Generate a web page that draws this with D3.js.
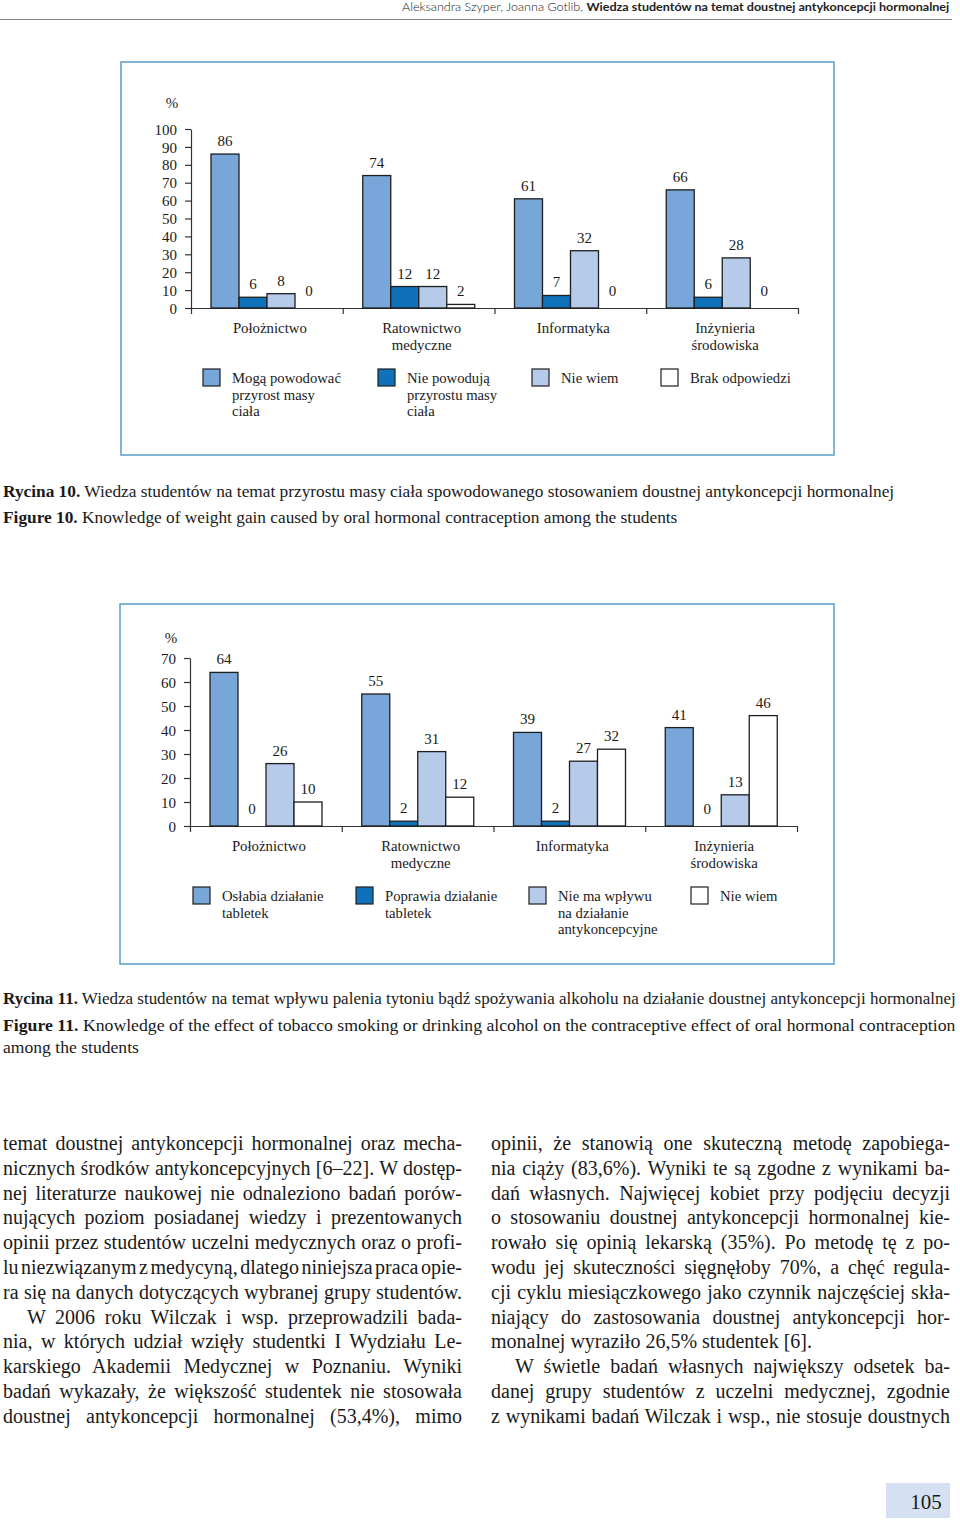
<!DOCTYPE html>
<html lang="pl">
<head>
<meta charset="UTF-8">
<title>Rycina 10 i 11</title>
<script src="https://d3js.org/d3.v7.min.js"></script>
<style>
    body { margin: 0; background: #fff; }
    svg { display: block; }
    .serif { font-family: "Liberation Serif", "Times New Roman", serif; fill: #1a1a1a; }
    .axis text { font-family: "Liberation Serif", serif; font-size: 15px; fill: #1a1a1a; }
    .axis path, .axis line { stroke: #333; stroke-width: 1.2px; }
    .bar { stroke: #1e1e1e; stroke-width: 1.3px; }
</style>
</head>
<body>
<svg id="page" width="960" height="1527"></svg>
<script>
    // dane
    const categories = [["Położnictwo"], ["Ratownictwo", "medyczne"], ["Informatyka"], ["Inżynieria", "środowiska"]];

    const fig10Series = [
        ["Mogą powodować", "przyrost masy", "ciała"],
        ["Nie powodują", "przyrostu masy", "ciała"],
        ["Nie wiem"],
        ["Brak odpowiedzi"]
    ];
    const fig10Values = [
        [86, 74, 61, 66],
        [6, 12, 7, 6],
        [8, 12, 32, 28],
        [0, 2, 0, 0]
    ];
    const fig10Ticks = [0, 10, 20, 30, 40, 50, 60, 70, 80, 90, 100];

    const fig11Series = [
        ["Osłabia działanie", "tabletek"],
        ["Poprawia działanie", "tabletek"],
        ["Nie ma wpływu", "na działanie", "antykoncepcyjne"],
        ["Nie wiem"]
    ];
    const fig11Values = [
        [64, 55, 39, 41],
        [0, 2, 2, 0],
        [26, 31, 27, 13],
        [10, 12, 32, 46]
    ];
    const fig11Ticks = [0, 10, 20, 30, 40, 50, 60, 70];

    const colors = ["#78a6d8", "#0f71ba", "#b6caea", "#ffffff"];

    const svg = d3.select("#page");
    svg.append("rect").attr("width", 960).attr("height", 1527).attr("fill", "#fff");

    function fitWidth(t, x, y, width) {
        const w = t.node().getComputedTextLength();
        t.attr("transform", `translate(${x},${y}) scale(${width / w},1)`);
    }

    // nagłówek strony
    const head = svg.append("text")
        .style("font-family", "Lato, 'Open Sans', sans-serif")
        .style("font-size", "11px")
        .attr("fill", "#222");
    head.append("tspan").style("font-weight", 300).text("Aleksandra Szyper, Joanna Gotlib, ");
    head.append("tspan").style("font-weight", 700).text("Wiedza studentów na temat doustnej antykoncepcji hormonalnej");
    fitWidth(head, 402, 11, 548);
    svg.append("line").attr("x1", 0).attr("x2", 952).attr("y1", 19.5).attr("y2", 19.5)
        .attr("stroke", "#8a8a8a").attr("stroke-width", 1);

    function drawChart(o) {
        const g = svg.append("g");
        g.append("rect")
            .attr("x", o.frame[0]).attr("y", o.frame[1])
            .attr("width", o.frame[2]).attr("height", o.frame[3])
            .attr("fill", "none").attr("stroke", "#5b9cc9").attr("stroke-width", 1.5);

        const y = d3.scaleLinear().domain([0, o.yMax]).range([o.y0, o.yTop]);
        const x = d3.scaleBand().domain(d3.range(categories.length)).range([o.x0, o.x1]);
        const xs = d3.scaleBand().domain(d3.range(o.values.length)).range([20, 132]);
        const xb = d3.scaleLinear().domain([0, categories.length]).range([o.x0, o.x1]);

        g.append("g").attr("class", "axis")
            .attr("transform", `translate(${o.x0},0)`)
            .call(d3.axisLeft(y).tickValues(o.ticks).tickSize(6).tickSizeOuter(0).tickPadding(8))
            .selectAll("text").attr("dy", "0.34em");

        g.append("g").attr("class", "axis")
            .attr("transform", `translate(0,${o.y0})`)
            .call(d3.axisBottom(xb).tickValues(d3.range(categories.length + 1)).tickSize(6).tickSizeOuter(0).tickFormat(""));

        g.append("text").attr("class", "serif")
            .attr("x", o.x0 - 19).attr("y", o.yTop - o.pctGap)
            .attr("text-anchor", "middle").style("font-size", "15px").text("%");

        o.values.forEach((vals, s) => {
            const cells = vals.map((v, i) => ({ v, i }));
            g.selectAll(null).data(cells.filter(d => d.v > 0)).join("rect")
                .attr("class", "bar")
                .attr("x", d => x(d.i) + xs(s))
                .attr("y", d => y(d.v))
                .attr("width", xs.bandwidth())
                .attr("height", d => o.y0 - y(d.v))
                .attr("fill", colors[s]);
            g.selectAll(null).data(cells).join("text")
                .attr("class", "serif")
                .attr("x", d => x(d.i) + xs(s) + xs.bandwidth() / 2)
                .attr("y", d => Math.min(y(d.v) - 8, o.y0 - 12))
                .attr("text-anchor", "middle")
                .style("font-size", "15px")
                .text(d => d.v);
        });

        categories.forEach((lines, i) => {
            const t = g.append("text").attr("class", "serif")
                .attr("text-anchor", "middle").style("font-size", "14.8px");
            lines.forEach((l, k) => {
                t.append("tspan").attr("x", x(i) + x.bandwidth() / 2 + 3)
                    .attr("y", o.y0 + 25 + k * 16.5).text(l);
            });
        });

        o.series.forEach((lines, s) => {
            const lx = o.legendX[s];
            g.append("rect")
                .attr("x", lx).attr("y", o.legendY)
                .attr("width", 17).attr("height", 17)
                .attr("fill", colors[s]).attr("stroke", "#1e1e1e").attr("stroke-width", 1.2);
            const t = g.append("text").attr("class", "serif").style("font-size", "14.7px");
            lines.forEach((l, k) => {
                t.append("tspan").attr("x", lx + 29)
                    .attr("y", o.legendY + 14 + k * 16.5).text(l);
            });
        });
    }

    drawChart({
        frame: [121, 62, 713, 393],
        x0: 191, x1: 798, y0: 308, yTop: 129, yMax: 100, pctGap: 21,
        ticks: fig10Ticks, values: fig10Values, series: fig10Series,
        legendX: [203, 378, 532, 661], legendY: 369
    });

    drawChart({
        frame: [120, 604, 714, 360],
        x0: 190, x1: 797, y0: 826, yTop: 658, yMax: 70, pctGap: 15,
        ticks: fig11Ticks, values: fig11Values, series: fig11Series,
        legendX: [193, 356, 529, 691], legendY: 887
    });

    // podpisy rycin
    function caption(bold, rest, x, y, width) {
        const t = svg.append("text").attr("class", "serif").style("font-size", "16px");
        if (bold) t.append("tspan").style("font-weight", 700).text(bold);
        t.append("tspan").text(rest);
        fitWidth(t, x, y, width);
    }
    caption("Rycina 10.", " Wiedza studentów na temat przyrostu masy ciała spowodowanego stosowaniem doustnej antykoncepcji hormonalnej", 3, 497, 892);
    caption("Figure 10.", " Knowledge of weight gain caused by oral hormonal contraception among the students", 3, 523, 675);
    caption("Rycina 11.", " Wiedza studentów na temat wpływu palenia tytoniu bądź spożywania alkoholu na działanie doustnej antykoncepcji hormonalnej", 3, 1004, 953);
    caption("Figure 11.", " Knowledge of the effect of tobacco smoking or drinking alcohol on the contraceptive effect of oral hormonal contraception", 3, 1031, 953);
    caption(null, "among the students", 3, 1053, 136);

    // tekst główny (dwie kolumny, wyjustowane)
    const leftLines = [
        "temat doustnej antykoncepcji hormonalnej oraz mecha-",
        "nicznych środków antykoncepcyjnych [6–22]. W dostęp-",
        "nej literaturze naukowej nie odnaleziono badań porów-",
        "nujących poziom posiadanej wiedzy i prezentowanych",
        "opinii przez studentów uczelni medycznych oraz o profi-",
        "lu niezwiązanym z medycyną, dlatego niniejsza praca opie-",
        "ra się na danych dotyczących wybranej grupy studentów.",
        "\tW 2006 roku Wilczak i wsp. przeprowadzili bada-",
        "nia, w których udział wzięły studentki I Wydziału Le-",
        "karskiego Akademii Medycznej w Poznaniu. Wyniki",
        "badań wykazały, że większość studentek nie stosowała",
        "doustnej antykoncepcji hormonalnej (53,4%), mimo"
    ];
    const rightLines = [
        "opinii, że stanowią one skuteczną metodę zapobiega-",
        "nia ciąży (83,6%). Wyniki te są zgodne z wynikami ba-",
        "dań własnych. Najwięcej kobiet przy podjęciu decyzji",
        "o stosowaniu doustnej antykoncepcji hormonalnej kie-",
        "rowało się opinią lekarską (35%). Po metodę tę z po-",
        "wodu jej skuteczności sięgnęłoby 70%, a chęć regula-",
        "cji cyklu miesiączkowego jako czynnik najczęściej skła-",
        "niający do zastosowania doustnej antykoncepcji hor-",
        "monalnej wyraziło 26,5% studentek [6].",
        "\tW świetle badań własnych największy odsetek ba-",
        "danej grupy studentów z uczelni medycznej, zgodnie",
        "z wynikami badań Wilczak i wsp., nie stosuje doustnych"
    ];

    function column(lines, x0, colWidth, lastLines) {
        lines.forEach((line, k) => {
            const indent = line.startsWith("\t") ? 24 : 0;
            const txt = line.replace("\t", "");
            const t = svg.append("text").attr("class", "serif")
                .attr("x", x0 + indent).attr("y", 1150 + k * 24.8)
                .style("font-size", "20px").text(txt);
            if (lastLines.includes(k)) return;
            const natural = t.node().getComputedTextLength();
            const spaces = (txt.match(/ /g) || []).length;
            if (spaces) t.attr("word-spacing", (colWidth - indent - natural) / spaces);
        });
    }
    column(leftLines, 3, 459, []);
    column(rightLines, 491, 459, [8]);

    // numer strony
    svg.append("rect").attr("x", 886).attr("y", 1483).attr("width", 64).attr("height", 35).attr("fill", "#d5e1f2");
    svg.append("text").attr("class", "serif")
        .attr("x", 926).attr("y", 1509).attr("text-anchor", "middle")
        .style("font-size", "21px").text("105");
</script>
</body>
</html>
